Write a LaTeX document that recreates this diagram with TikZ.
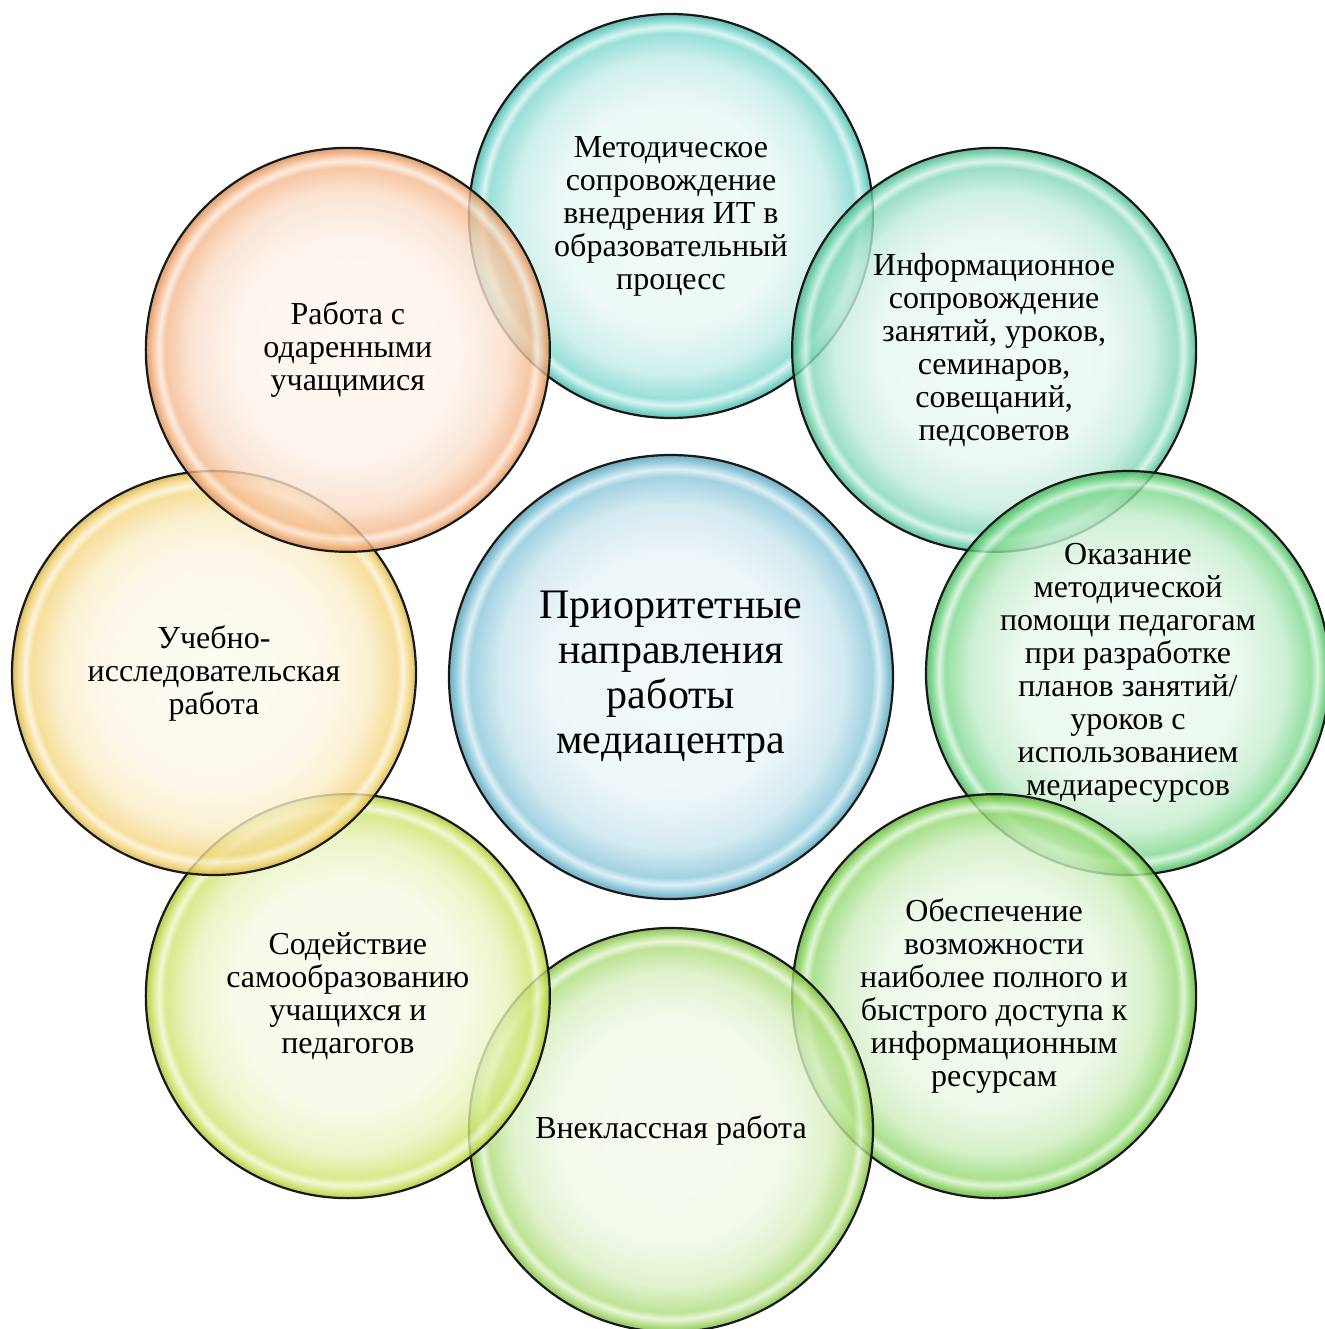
\documentclass[tikz,border=0pt]{standalone}
\usepackage{fontspec}
\setmainfont{Liberation Serif}
\usepackage{tikz}
\usetikzlibrary{shapes}
\definecolor{col0}{HTML}{5FB3CC}
\definecolor{col1}{HTML}{4FC9BC}
\definecolor{col2}{HTML}{52C99A}
\definecolor{col3}{HTML}{4CC964}
\definecolor{col4}{HTML}{6CCB3C}
\definecolor{col5}{HTML}{8FD14A}
\definecolor{col6}{HTML}{BFDB3A}
\definecolor{col7}{HTML}{F0C850}
\definecolor{col8}{HTML}{F29F62}
\colorlet{bubblecol}{col0}
\pgfdeclareradialshading[bubblecol]{bubble}{\pgfpoint{0bp}{0bp}}{%
  color(0bp)=(bubblecol!9!white); color(14bp)=(bubblecol!14!white);
  color(19.5bp)=(bubblecol!34!white); color(22.6bp)=(bubblecol!72!white);
  color(23.4bp)=(bubblecol!25!white); color(24.3bp)=(bubblecol!85!white);
  color(25bp)=(bubblecol!85!black); color(50bp)=(bubblecol!85!black)}
\tikzset{bubble color/.code={\colorlet{bubblecol}{#1}},
  bubble/.style={circle,draw=black!90,line width=1.1pt,inner sep=0pt,minimum size=202pt,
    shade,shading=bubble,bubble color=#1,fill opacity=.8,text opacity=1,
    align=center,font=\fontsize{16}{16.5}\selectfont}}

\begin{document}
\begin{tikzpicture}
    \path[fill=white,use as bounding box] (-335.5pt,-328pt) rectangle (327pt,336.5pt);
    \node[bubble=col0,minimum size=222pt,font=\fontsize{21}{22.5}\selectfont] (0) at (0,-2pt)
      {Приоритетные\\направления\\работы\\медиацентра};
    \node[bubble=col1] (1) at (90:228.5pt)
      {Методическое\\сопровождение\\внедрения ИТ в\\образовательный\\процесс};
    \node[bubble=col2] (2) at (45:228.5pt)
      {Информационное\\сопровождение\\занятий, уроков,\\семинаров,\\совещаний,\\педсоветов};
    \node[bubble=col3] (3) at (0:228.5pt)
      {Оказание\\методической\\помощи педагогам\\при разработке\\планов занятий/\\уроков с\\использованием\\медиаресурсов};
    \node[bubble=col4] (4) at (-45:228.5pt)
      {Обеспечение\\возможности\\наиболее полного и\\быстрого доступа к\\информационным\\ресурсам};
    \node[bubble=col5] (5) at (-90:228.5pt) {Внеклассная работа};
    \node[bubble=col6] (6) at (-135:228.5pt)
      {Содействие\\самообразованию\\учащихся и\\педагогов};
    \node[bubble=col7] (7) at (180:228.5pt) {Учебно-\\исследовательская\\работа};
    \node[bubble=col8] (8) at (135:228.5pt) {Работа с\\одаренными\\учащимися};
\end{tikzpicture}
\end{document}
